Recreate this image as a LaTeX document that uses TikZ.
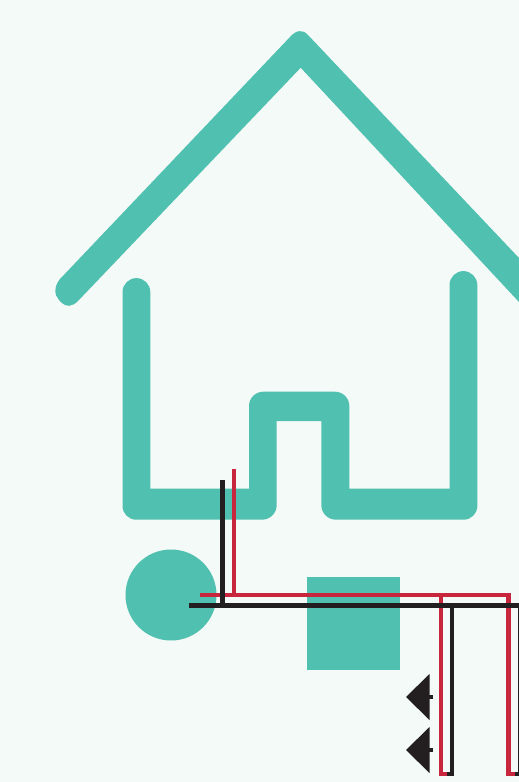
\documentclass[tikz,border=0pt]{standalone}
\usepackage{tikz}
\definecolor{paper}{HTML}{F4FAF7}
\definecolor{teal}{HTML}{50C0B0}
\definecolor{wirered}{HTML}{C8263C}
\definecolor{wireblack}{HTML}{231F20}

\begin{document}
\begin{tikzpicture}[
  x=1pt, y=-1pt,
  shell/.style={fill=teal, draw=none},
  redwire/.style={draw=wirered, line width=4.4pt},
  blackwire/.style={draw=wireblack, line width=4.4pt},
  valve/.style={fill=wireblack, draw=none}
  ]

  \fill[paper] (0,0) rectangle (519,782);
  \useasboundingbox (0,0) rectangle (519,782);
  \clip (0,0) rectangle (519,782);

  % roof
  \path[shell] (60,279) -- (290,37)
    .. controls (296,30) and (303,29) .. (308,35)
    -- (519,258) -- (519,302) -- (300.7,67.7) -- (78,301)
    .. controls (72,307) and (66,307) .. (62,303)
    -- (59,300) .. controls (54,295) and (54,286) .. (60,279) -- cycle;

  % walls
  \path[shell] (122.5,292) arc[start angle=180, end angle=360, radius=13.9]
    -- (150.3,488.7) -- (249,488.7) -- (249,406)
    arc[start angle=180, end angle=270, radius=14.3]
    -- (335,391.7)
    arc[start angle=270, end angle=360, radius=14.3]
    -- (349.3,488.7) -- (449.5,488.7) -- (449.5,285)
    arc[start angle=180, end angle=360, radius=13.9]
    -- (477.3,506)
    arc[start angle=0, end angle=90, radius=13.7]
    -- (336,519.7)
    arc[start angle=90, end angle=180, radius=14.7]
    -- (321.3,421) -- (276.7,421) -- (276.7,505)
    arc[start angle=0, end angle=90, radius=14.7]
    -- (136.2,519.7)
    arc[start angle=90, end angle=180, radius=13.7]
    -- cycle;

  % tank and box
  \path[shell] (171,595) circle[radius=45.5];
  \path[shell] (307,577) rectangle (400,670);

  % valves
  \foreach \y in {697,750} {
    \path[valve] (406,\y) -- (429.5,\y-23) -- (429.5,\y+23) -- cycle;
    \path[valve] (429,\y-2) rectangle (433,\y+2);
  }

  % red run
  \draw[redwire] (234,469) -- (234,595);
  \draw[redwire, line join=miter] (200,595) -- (508.3,595) -- (508.3,774) -- (515,774);
  \draw[redwire, line join=miter] (440.7,595) -- (440.7,774) -- (447,774);

  % black run
  \draw[blackwire] (222.5,479.5) -- (222.5,605.5);
  \draw[blackwire] (188.5,605.5) -- (519,605.5);
  \draw[blackwire, line join=miter] (452,605.5) -- (452,774) -- (447,774);
  \draw[blackwire, line join=miter] (520.5,605.5) -- (520.5,774) -- (515,774);

\end{tikzpicture}
\end{document}
